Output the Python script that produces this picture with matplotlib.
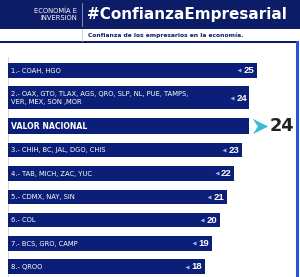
#
# Confianza empresarial por entidad - horizontal bars
#

import matplotlib
matplotlib.use("Agg")
import matplotlib.pyplot as plt
from matplotlib.patches import Rectangle
from matplotlib.path import Path

labels = [
    "1.- COAH, HGO",
    "2.- OAX, GTO, TLAX, AGS, QRO, SLP, NL, PUE, TAMPS,\nVER, MEX, SON ,MOR",
    "VALOR NACIONAL",
    "3.- CHIH, BC, JAL, DGO, CHIS",
    "4.- TAB, MICH, ZAC, YUC",
    "5.- CDMX, NAY, SIN",
    "6.- COL",
    "7.- BCS, GRO, CAMP",
    "8.- QROO",
]
values = [25, 24, 24, 23, 22, 21, 20, 19, 18]
national_label = "VALOR NACIONAL"

title = "#ConfianzaEmpresarial"
subtitle = "Confianza de los empresarios en la economía."
section = "ECONOMÍA E\nINVERSIÓN"

NAVY = "#0c1f78"
HEADER = "#0d1c66"
BORDER = "#1f55e0"
CYAN = "#38bcd8"

W, H = 300, 277
fig = plt.figure(figsize=(W / 100, H / 100), dpi=100)

# background / header, in pixel units
bg = fig.add_axes([0, 0, 1, 1])
bg.set_xlim(0, W)
bg.set_ylim(H, 0)
bg.axis("off")
bg.add_patch(Rectangle((0, 0), W, 29, color=HEADER, lw=0))
bg.add_patch(Rectangle((0, 41), 297, 2.2, color=HEADER, lw=0))
bg.plot([82, 82], [3, 26], color="#8e9bc4", lw=0.6)
bg.plot([82, 82], [29, 41], color="#c8c8c8", lw=0.6)
bg.plot([7.5, 7.5], [57, H], color="#cfcfcf", lw=0.6)
bg.add_patch(Rectangle((295.5, 41), 3, H - 41, color=BORDER, lw=0))
bg.text(77, 14.5, section, color="white", fontsize=4.9, ha="right",
        va="center", linespacing=1.1)
bg.text(87, 15, title, color="white", fontsize=11.0, fontweight="bold",
        va="center")
bg.text(88, 35.5, subtitle, color=HEADER, fontsize=4.3, fontweight="bold",
        va="center")

# bars: x in value units, y in pixel units
scale = 7.45   # px per unit
base = -8.4
ax = fig.add_axes([8 / W, 0, 288 / W, 1])
ax.set_xlim(base, base + 288 / scale)
ax.set_ylim(H, 0)
ax.axis("off")
ax.patch.set_alpha(0)

chevron = Path([(-1, 1), (1, 0), (-1, -1), (-0.35, 0), (-1, 1)],
               [Path.MOVETO, Path.LINETO, Path.LINETO, Path.LINETO,
                Path.CLOSEPOLY])

top = 63.0
gap = 8.8
for lab, v in zip(labels, values):
    nat = lab == national_label
    if nat:
        h = 16
    elif "\n" in lab:
        h = 23
    else:
        h = 14.5
    yc = top + h / 2
    ax.barh(yc, v - base, height=h, left=base, color=NAVY, lw=0)
    ax.text(base + 0.35, yc + 0.3, lab, color="white", va="center",
            fontsize=5.6 if nat else 4.9,
            fontweight="bold" if nat else "normal", linespacing=1.4)
    if nat:
        ax.plot(v + 1.45, yc, marker=chevron, markersize=11, color=CYAN,
                mec="none")
        ax.text(v + 2.75, yc + 0.3, str(v), color="#222222", fontsize=12.8,
                fontweight="bold", va="center")
    else:
        ax.text(v - 0.35, yc + 0.3, str(v), color="white", fontsize=6.8,
                family="Liberation Sans", fontweight="bold", va="center",
                ha="right")
        ax.plot(v - 2.4, yc, marker="<", markersize=2.8, color="#9fb6ff",
                mec="none")
    top += h + gap

fig.savefig("out.png", dpi=100)
